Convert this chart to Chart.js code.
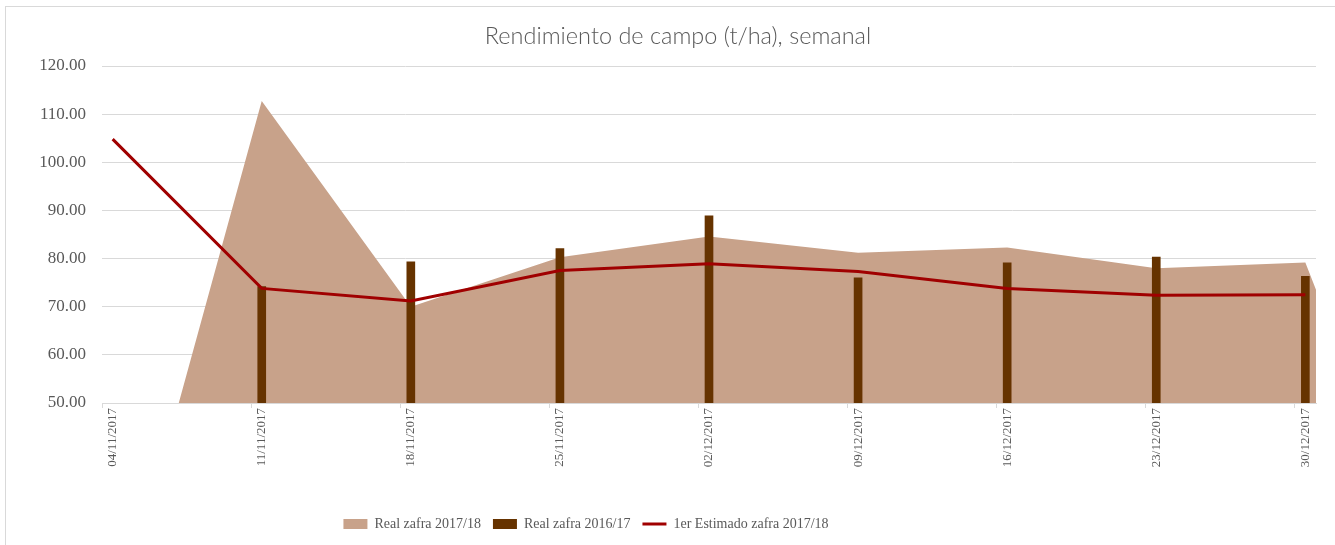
<!DOCTYPE html>
<html>
<head>
<meta charset="utf-8">
<script src="https://cdn.jsdelivr.net/npm/chart.js@4"></script>
<style>
  html, body { margin: 0; padding: 0; background: #fff; overflow: hidden; }
  #wrap { position: relative; width: 1335px; height: 545px; }
  #frame { position: absolute; left: 5px; top: 6px; width: 1400px; height: 600px;
           border: 1px solid #d9d9d9; pointer-events: none; }
</style>
</head>
<body>
<div id="wrap">
  <canvas id="chart" width="1335" height="545"></canvas>
  <div id="frame"></div>
</div>
<script>
// semanas (etiquetas del eje x)
var semanas = ['04/11/2017', '11/11/2017', '18/11/2017', '25/11/2017', '02/12/2017',
               '09/12/2017', '16/12/2017', '23/12/2017', '30/12/2017'];

// Real zafra 2017/18 (area) - el ultimo punto (06/01/2018) queda fuera del eje
var real1718 = [0, 112.75, 70.0, 80.3, 84.6, 81.2, 82.3, 78.0, 79.2, 0];
// Real zafra 2016/17 (barras)
var real1617 = [null, 74.2, 79.3, 82.1, 88.9, 76.0, 79.1, 80.3, 76.3];
// 1er Estimado zafra 2017/18 (linea)
var estimado = [104.8, 73.8, 71.2, 77.5, 78.9, 77.3, 73.8, 72.4, 72.5];

// el eje es de fechas: un hueco por dia, los valores caen cada 7 dias
var dias = 64;
function porDia(arr) {
  var out = [];
  for (var d = 0; d < dias; d++) {
    out.push(d % 7 === 0 && arr[d / 7] !== undefined ? arr[d / 7] : null);
  }
  return out;
}
var etiquetas = [];
for (var d = 0; d < dias; d++) {
  etiquetas.push(d % 7 === 0 && semanas[d / 7] ? semanas[d / 7] : '');
}

var gris = '#595959';
var serif = '"Liberation Serif", "Times New Roman", serif';

// coloca leyenda y titulo donde estan en el original
var moverCajas = {
  id: 'moverCajas',
  afterLayout: function (chart) {
    var lg = chart.legend;
    lg.left -= 72;
    lg.right -= 72;
    var t = chart.titleBlock;
    t.left += 20;
    t.right += 20;
  }
};

var ctx = document.getElementById('chart').getContext('2d');
var chart = new Chart(ctx, {
  type: 'bar',
  data: {
    labels: etiquetas,
    datasets: [
      {
        type: 'line',
        label: 'Real zafra 2017/18',
        data: porDia(real1718),
        backgroundColor: '#c8a28a',
        borderColor: '#c8a28a',
        borderWidth: 0,
        fill: 'origin',
        pointRadius: 0,
        spanGaps: true,
        tension: 0,
        clip: 0,
        order: 3
      },
      {
        type: 'bar',
        label: 'Real zafra 2016/17',
        data: porDia(real1617),
        backgroundColor: '#663300',
        borderWidth: 0,
        barThickness: 8,
        order: 2
      },
      {
        type: 'line',
        label: '1er Estimado zafra 2017/18',
        data: porDia(estimado),
        borderColor: '#a00000',
        backgroundColor: '#a00000',
        borderWidth: 3,
        pointRadius: 0,
        spanGaps: true,
        tension: 0,
        fill: false,
        order: 1
      }
    ]
  },
  options: {
    responsive: false,
    animation: false,
    layout: { padding: { left: 0, right: 19, top: 0, bottom: 4 } },
    plugins: {
      title: {
        display: true,
        text: 'Rendimiento de campo (t/ha), semanal',
        color: gris,
        font: { family: 'Lato', size: 23.5, weight: '300' },
        padding: { top: 22, bottom: 15.8 }
      },
      legend: {
        position: 'bottom',
        labels: {
          color: gris,
          font: { family: serif, size: 14 },
          usePointStyle: true,
          pointStyleWidth: 24,
          boxHeight: 10,
          padding: 12,
          sort: function (a, b) { return a.datasetIndex - b.datasetIndex; },
          generateLabels: function (chart) {
            var items = Chart.defaults.plugins.legend.labels.generateLabels(chart);
            items.forEach(function (it) {
              if (it.datasetIndex < 2) {
                it.pointStyle = 'rect';
                it.lineWidth = 0;
              } else {
                it.pointStyle = 'line';
                it.lineWidth = 3;
                it.strokeStyle = '#a00000';
              }
            });
            return items;
          }
        }
      },
      tooltip: { enabled: false }
    },
    scales: {
      x: {
        type: 'category',
        max: 56,
        offset: true,
        grid: {
          offset: true,
          drawOnChartArea: false,
          tickLength: 5,
          tickColor: function (c) {
            return c.index !== undefined && c.index % 7 === 0 ? '#d9d9d9' : 'rgba(0,0,0,0)';
          }
        },
        border: { color: '#d9d9d9' },
        ticks: {
          autoSkip: false,
          maxRotation: 90,
          minRotation: 90,
          padding: 0,
          color: gris,
          font: { family: serif, size: 13 }
        },
        afterFit: function (scale) { scale.height = 102; }
      },
      y: {
        min: 50,
        max: 120,
        ticks: {
          stepSize: 10,
          color: gris,
          padding: 16,
          font: { family: serif, size: 17 },
          callback: function (v) { return v.toFixed(2); }
        },
        grid: { color: '#d9d9d9', drawTicks: false },
        border: { display: false },
        afterFit: function (scale) { scale.width = 102; }
      }
    }
  },
  plugins: [moverCajas]
});
</script>
</body>
</html>
